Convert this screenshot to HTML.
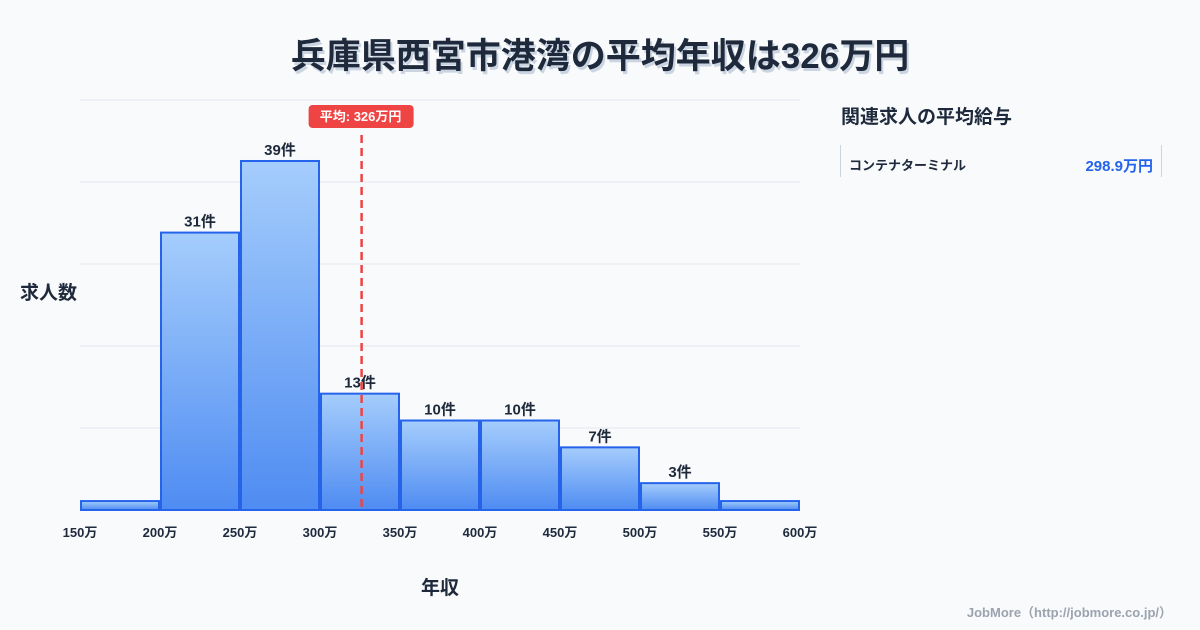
<!DOCTYPE html>
<html><head><meta charset="utf-8">
<style>
body{margin:0;width:1200px;height:630px;background:#f8fafc;font-family:"Liberation Sans","Noto Sans CJK JP",sans-serif;overflow:hidden;position:relative}
.t{position:absolute;left:0;width:1200px;top:28px;text-align:center;font-size:35px;font-weight:bold;color:#1e293b;text-shadow:2px 3px 0 #cbd5e1}
</style></head><body>
<div class="t">兵庫県西宮市港湾の平均年収は326万円</div>
<svg id="c" width="1200" height="630" style="position:absolute;left:0;top:0">
<defs><linearGradient id="g" x1="0" y1="0" x2="0" y2="1"><stop offset="0" stop-color="#a5cdfc"/><stop offset="1" stop-color="#4f8cf2"/></linearGradient></defs>
</svg>
<div style="position:absolute;left:841px;top:102px;font-size:19px;font-weight:bold;color:#1e293b">関連求人の平均給与</div>
<div style="position:absolute;left:840px;top:145px;width:320px;height:32px;border-left:1px solid #cbd5e1;border-right:1px solid #cbd5e1">
<span style="position:absolute;left:8px;top:10px;font-size:13px;font-weight:bold;color:#1e293b">コンテナターミナル</span>
<span style="position:absolute;right:8px;top:10px;font-size:15px;font-weight:bold;color:#2563eb">298.9万円</span></div>
<div style="position:absolute;right:28px;top:602px;font-size:13px;font-weight:bold;color:#9ca3af">JobMore（http://jobmore.co.jp/）</div>
<script>
const binStarts=[150,200,250,300,350,400,450,500,550];
const counts=[1,31,39,13,10,10,7,3,1];
const labels=["","31件","39件","13件","10件","10件","7件","3件",""];
const ticks=[150,200,250,300,350,400,450,500,550,600];
const meanValue=326;
const NS="http://www.w3.org/2000/svg";
const svg=document.getElementById('c');
const x=v=>80+(v-150)*1.6;
const y=v=>510-v*8.949;
function mk(t,a,p){const e=document.createElementNS(NS,t);for(const k in a)e.setAttribute(k,a[k]);(p||svg).appendChild(e);return e;}
for(let i=0;i<6;i++){const g=mk('line',{x1:80,x2:800,y1:100+i*82,y2:100+i*82,stroke:'#e2e8f0','stroke-width':1});

}
binStarts.forEach((b,i)=>{
 const r=mk('rect',{x:x(b)+1,y:y(counts[i]),width:x(b+50)-x(b)-2,height:510-y(counts[i]),fill:'url(#g)',stroke:'#2563eb','stroke-width':2});
 
 
 if(labels[i]){const t=mk('text',{x:(x(b)+x(b+50))/2,y:y(counts[i])-6,'text-anchor':'middle','font-size':15,'font-weight':'bold',fill:'#1e293b'});t.textContent=labels[i];
 
 }
});
ticks.forEach(v=>{const t=mk('text',{x:x(v),y:537,'text-anchor':'middle','font-size':13,'font-weight':'bold',fill:'#1e293b'});t.textContent=v+'万';

});
const ml=mk('line',{x1:x(meanValue),x2:x(meanValue),y1:135,y2:510,stroke:'#ef4444','stroke-width':2.5,'stroke-dasharray':'8,5'});


const mr=mk('rect',{x:x(meanValue)-53,y:105,width:105,height:23,rx:4,fill:'#ef4444'});


const mt=mk('text',{x:x(meanValue)-1,y:121,'text-anchor':'middle','font-size':13,'font-weight':'bold',fill:'#fff'});mt.textContent='平均: '+meanValue+'万円';


const yt=mk('text',{x:20,y:299,'font-size':19,'font-weight':'bold',fill:'#1e293b'});yt.textContent='求人数';


const xt=mk('text',{x:440,y:594,'text-anchor':'middle','font-size':19,'font-weight':'bold',fill:'#1e293b'});xt.textContent='年収';


</script>
</body></html>
